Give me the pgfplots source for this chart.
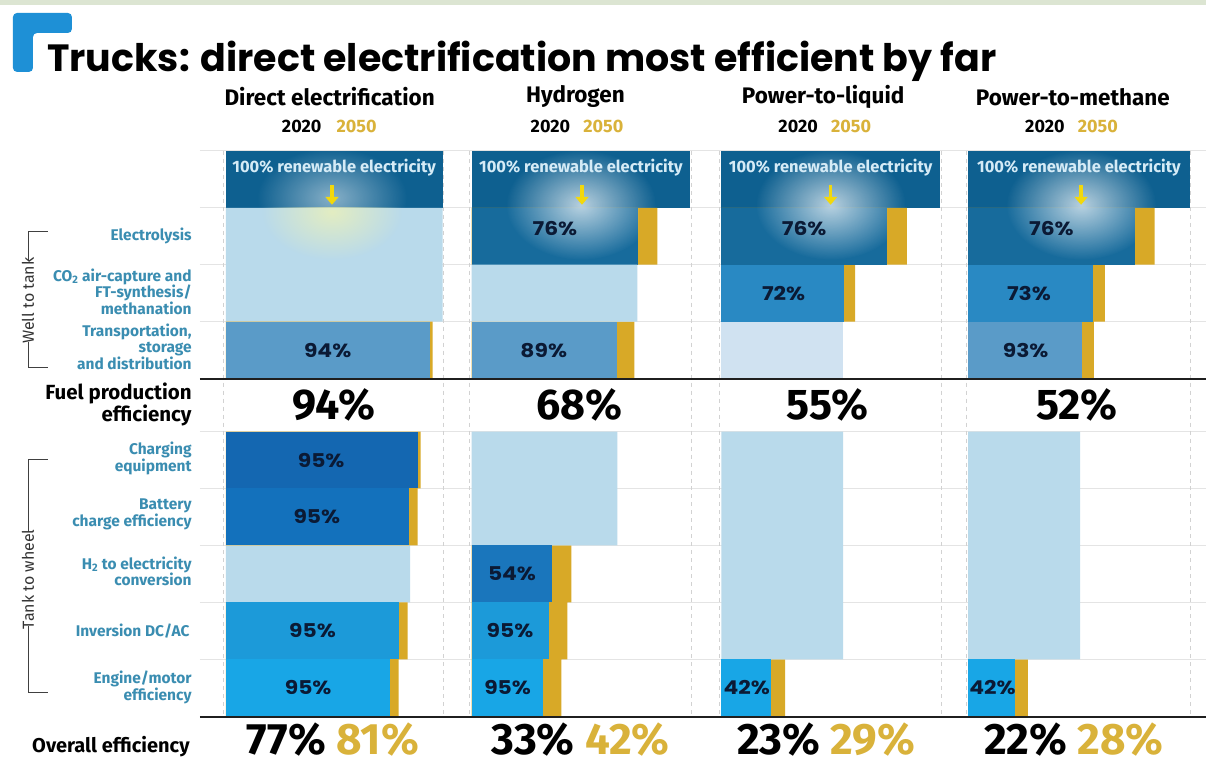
\documentclass[border=0pt]{standalone}
\usepackage{fontspec}
\setmainfont{Fira Sans}
\newfontfamily\titlefont{Poppins}
\newfontfamily\labfont[FakeStretch=1.15]{Poppins}
\usepackage{pgfplots}
\pgfplotsset{compat=1.18}
\usetikzlibrary{fadings,arrows.meta}

\definecolor{topblue}{HTML}{0E6090}
\definecolor{elecblue}{HTML}{176B9C}
\definecolor{lightb}{HTML}{B9DAEB}
\definecolor{vlight}{HTML}{D0E2F1}
\definecolor{transb}{HTML}{5A9BC8}
\definecolor{co2b}{HTML}{2989C3}
\definecolor{chargeb}{HTML}{1467B1}
\definecolor{battb}{HTML}{1371BC}
\definecolor{h2b}{HTML}{1A76BC}
\definecolor{invb}{HTML}{1C9AD9}
\definecolor{engb}{HTML}{18A6E6}
\definecolor{gold}{HTML}{D8A927}
\definecolor{goldtxt}{HTML}{D9B23A}
\definecolor{navy}{HTML}{0B1A35}
\definecolor{tealc}{HTML}{3A8DB1}
\definecolor{logob}{HTML}{1E90D6}
\definecolor{stripc}{HTML}{DCE5D2}
\definecolor{boxtxt}{HTML}{D5EBF6}
\definecolor{arrowy}{HTML}{F2D80C}
\definecolor{gridc}{HTML}{E4E4E4}
\definecolor{dashc}{HTML}{D2D2D2}

\tikzfading[name=glowfade, inner color=transparent!0, outer color=transparent!100]

\pgfplotsset{
  colax/.style={at={(#1pt,0pt)}, anchor=south west, scale only axis, height=765pt,
    ymin=0, ymax=765, y dir=reverse, xmin=0, xmax=100, hide axis, clip=false},
  bx/.style={xbar, bar width=57pt, bar shift=0pt, draw=none, fill=#1},
  pxax/.style={at={(0pt,0pt)}, anchor=south west, scale only axis, width=1207pt, height=765pt,
    xmin=0, xmax=1207, ymin=0, ymax=765, y dir=reverse, hide axis, clip=false},
}
\tikzset{
  lab/.style={font=\labfont\bfseries\fontsize{19}{19}\selectfont, text=navy, inner sep=0pt},
  boxlab/.style={font=\bfseries\fontsize{16.5}{16.5}\selectfont, text=boxtxt, inner sep=0pt},
  rowlab/.style={anchor=east, align=right, font=\bfseries\fontsize{15.5}{16.8}\selectfont, text=tealc, inner sep=0pt},
  arr/.style={arrowy, line width=3.5pt, -{Triangle[length=8pt,width=13pt]}},
  glow/.style={white, opacity=0.7, path fading=glowfade},
  hdr/.style={font=\bfseries\fontsize{22.5}{22.5}\selectfont, inner sep=0pt},
  yr/.style={font=\bfseries\fontsize{18}{18}\selectfont, inner sep=0pt},
  big/.style={anchor=base, font=\bfseries\fontsize{43}{43}\selectfont, inner sep=0pt},
  ovl/.style={anchor=base, font=\bfseries\fontsize{44}{44}\selectfont, inner sep=0pt},
  gl/.style={gridc, line width=1pt},
  dl/.style={dashc, line width=0.8pt, dash pattern=on 4pt off 4pt},
  brk/.style={black!75, line width=0.9pt},
  brt/.style={rotate=90, font=\fontsize{16}{16}\selectfont, text=black!80, inner sep=0pt},
}

\begin{document}
\begin{tikzpicture}
% ---------------- background / text frame ----------------
\begin{axis}[pxax]
\fill[white] (axis cs:0,0) rectangle (axis cs:1207,765);
\fill[stripc] (axis cs:0,0) rectangle (axis cs:1207,5);
\fill[logob, rounded corners=4pt] (axis cs:13,13) -- (axis cs:72,13) -- (axis cs:72,33) -- (axis cs:33,33) -- (axis cs:33,72) -- (axis cs:13,72) -- cycle;
\node[anchor=base west, inner sep=0pt, font=\titlefont\bfseries\fontsize{38}{38}\selectfont] at (axis cs:47,72) {Trucks: direct electrification most efficient by far};
% headers
\node[hdr] at (axis cs:330,97) {Direct electrification};
\node[hdr] at (axis cs:576,97) {Hydrogen};
\node[hdr] at (axis cs:824,97) {Power-to-liquid};
\node[hdr] at (axis cs:1074,97) {Power-to-methane};
\node[yr] at (axis cs:302,127) {2020};
\node[yr] at (axis cs:551,127) {2020};
\node[yr] at (axis cs:799,127) {2020};
\node[yr] at (axis cs:1046,127) {2020};
\node[yr, text=goldtxt] at (axis cs:357,127) {2050};
\node[yr, text=goldtxt] at (axis cs:604,127) {2050};
\node[yr, text=goldtxt] at (axis cs:852,127) {2050};
\node[yr, text=goldtxt] at (axis cs:1099,127) {2050};
% grid lines
\draw[gl] (axis cs:200,151) -- (axis cs:1207,151);
\draw[gl] (axis cs:200,208) -- (axis cs:1207,208);
\draw[gl] (axis cs:200,265) -- (axis cs:1207,265);
\draw[gl] (axis cs:200,322) -- (axis cs:1207,322);
\draw[gl] (axis cs:200,432) -- (axis cs:1207,432);
\draw[gl] (axis cs:200,489) -- (axis cs:1207,489);
\draw[gl] (axis cs:200,546) -- (axis cs:1207,546);
\draw[gl] (axis cs:200,603) -- (axis cs:1207,603);
\draw[gl] (axis cs:200,660) -- (axis cs:1207,660);
\draw[dl] (axis cs:224,151) -- (axis cs:224,717);
\draw[dl] (axis cs:444,151) -- (axis cs:444,717);
\draw[dl] (axis cs:470,151) -- (axis cs:470,717);
\draw[dl] (axis cs:692,151) -- (axis cs:692,717);
\draw[dl] (axis cs:720,151) -- (axis cs:720,717);
\draw[dl] (axis cs:942,151) -- (axis cs:942,717);
\draw[dl] (axis cs:967,151) -- (axis cs:967,717);
\draw[dl] (axis cs:1192,151) -- (axis cs:1192,717);
% row labels
\node[rowlab] at (axis cs:192,236.5) {Electrolysis};
\node[rowlab] at (axis cs:192,292) {CO\textsubscript{2} air-capture and\\FT-synthesis/\\methanation};
\node[rowlab] at (axis cs:192,347) {Transportation,\\storage\\and distribution};
\node[rowlab] at (axis cs:192,459) {Charging\\equipment};
\node[rowlab] at (axis cs:192,515) {Battery\\charge efficiency};
\node[rowlab] at (axis cs:192,572) {H\textsubscript{2} to electricity\\conversion};
\node[rowlab] at (axis cs:190,632) {Inversion DC/AC};
\node[rowlab] at (axis cs:192,688) {Engine/motor\\efficiency};
\node[anchor=east, align=right, inner sep=0pt, font=\bfseries\fontsize{20.5}{19}\selectfont] at (axis cs:192,405) {Fuel production\\efficiency};
\node[anchor=base east, inner sep=0pt, font=\bfseries\fontsize{20}{20}\selectfont] at (axis cs:190,753) {Overall efficiency};
% brackets
\draw[brk] (axis cs:48,232) -- (axis cs:28,232) -- (axis cs:28,261);
\draw[brk] (axis cs:28,342) -- (axis cs:28,368) -- (axis cs:48,368);
\node[brt] at (axis cs:28,301) {Well to tank};
\draw[brk] (axis cs:48,460) -- (axis cs:28,460) -- (axis cs:28,533);
\draw[brk] (axis cs:28,627) -- (axis cs:28,693) -- (axis cs:48,693);
\node[brt] at (axis cs:28,580) {Tank to wheel};
% fuel production efficiency
\node[big] at (axis cs:334,420) {94\%};
\node[big] at (axis cs:580,420) {68\%};
\node[big] at (axis cs:828,420) {55\%};
\node[big] at (axis cs:1078,420) {52\%};
% overall
\node[ovl] at (axis cs:333,755) {77\% \textcolor{goldtxt}{81\%}};
\node[ovl] at (axis cs:581,755) {33\% \textcolor{goldtxt}{42\%}};
\node[ovl] at (axis cs:827,755) {23\% \textcolor{goldtxt}{29\%}};
\node[ovl] at (axis cs:1075,755) {22\% \textcolor{goldtxt}{28\%}};
\end{axis}

% ---------------- Direct electrification ----------------
\begin{axis}[colax=226, width=217pt]
\addplot[bx=topblue] coordinates {(100,179.5)};
\addplot[bx=lightb] coordinates {(100,236.5) (100,293.5) (85,574.5)};
\addplot[bx=gold] coordinates {(95.4,350.5) (89.9,460.5) (88.5,517.5) (83.9,631.5) (79.7,688.5)};
\addplot[bx=transb] coordinates {(94.0,350.5)};
\addplot[bx=chargeb] coordinates {(88.6,460.5)};
\addplot[bx=battb] coordinates {(84.3,517.5)};
\addplot[bx=invb] coordinates {(79.7,631.5)};
\addplot[bx=engb] coordinates {(75.8,688.5)};
\begin{scope}
\clip (axis cs:0,151) rectangle (axis cs:100,208);
\fill[glow, opacity=0.5] (axis cs:49,198) ellipse [x radius=75pt, y radius=50pt];
\end{scope}
\begin{scope}
\clip (axis cs:0,208) rectangle (axis cs:100,265);
\fill[yellow!35!white, opacity=0.6, path fading=glowfade] (axis cs:49,212) ellipse [x radius=70pt, y radius=48pt];
\end{scope}
\node[boxlab] at (axis cs:50,168) {100\% renewable electricity};
\draw[arr] (axis cs:49,185) -- (axis cs:49,205);
\node[lab] at (axis cs:47,350.5) {94\%};
\node[lab] at (axis cs:44,460.5) {95\%};
\node[lab] at (axis cs:42,517.5) {95\%};
\node[lab] at (axis cs:40,631.5) {95\%};
\node[lab] at (axis cs:38,688.5) {95\%};
\end{axis}

% ---------------- Hydrogen ----------------
\begin{axis}[colax=472, width=219pt]
\addplot[bx=topblue] coordinates {(100,179.5)};
\addplot[bx=gold] coordinates {(84.9,236.5) (74.4,350.5) (45.7,574.5) (43.8,631.5) (41.1,688.5)};
\addplot[bx=elecblue] coordinates {(76.3,236.5)};
\addplot[bx=lightb] coordinates {(75.8,293.5) (66.7,460.5) (66.7,517.5)};
\addplot[bx=transb] coordinates {(66.7,350.5)};
\addplot[bx=h2b] coordinates {(37.0,574.5)};
\addplot[bx=invb] coordinates {(35.2,631.5)};
\addplot[bx=engb] coordinates {(32.9,688.5)};
\begin{scope}
\clip (axis cs:0,151) rectangle (axis cs:100,208) (axis cs:0,208) rectangle (axis cs:76.3,265);
\fill[glow] (axis cs:50,205) ellipse [x radius=75pt, y radius=55pt];
\end{scope}
\node[boxlab] at (axis cs:50,168) {100\% renewable electricity};
\draw[arr] (axis cs:50.5,185) -- (axis cs:50.5,205);
\node[lab] at (axis cs:38.1,229) {76\%};
\node[lab] at (axis cs:33,350.5) {89\%};
\node[lab] at (axis cs:18.5,574.5) {54\%};
\node[lab] at (axis cs:17.6,631.5) {95\%};
\node[lab] at (axis cs:16.5,688.5) {95\%};
\end{axis}

% ---------------- Power-to-liquid ----------------
\begin{axis}[colax=722, width=219pt]
\addplot[bx=topblue] coordinates {(100,179.5)};
\addplot[bx=gold] coordinates {(84.9,236.5) (61.2,293.5) (29.2,688.5)};
\addplot[bx=elecblue] coordinates {(75.8,236.5)};
\addplot[bx=co2b] coordinates {(56.2,293.5)};
\addplot[bx=vlight] coordinates {(55.7,350.5)};
\addplot[bx=lightb] coordinates {(55.7,460.5) (55.7,517.5) (55.7,574.5) (55.7,631.5)};
\addplot[bx=engb] coordinates {(22.8,688.5)};
\begin{scope}
\clip (axis cs:0,151) rectangle (axis cs:100,208) (axis cs:0,208) rectangle (axis cs:75.8,265);
\fill[glow] (axis cs:50,205) ellipse [x radius=75pt, y radius=55pt];
\end{scope}
\node[boxlab] at (axis cs:50,168) {100\% renewable electricity};
\draw[arr] (axis cs:50,185) -- (axis cs:50,205);
\node[lab] at (axis cs:37.9,229) {76\%};
\node[lab] at (axis cs:28.5,293.5) {72\%};
\node[lab] at (axis cs:11.6,688.5) {42\%};
\end{axis}

% ---------------- Power-to-methane ----------------
\begin{axis}[colax=969, width=222pt]
\addplot[bx=topblue] coordinates {(100,179.5)};
\addplot[bx=gold] coordinates {(84.2,236.5) (61.7,293.5) (56.8,350.5) (27.0,688.5)};
\addplot[bx=elecblue] coordinates {(75.2,236.5)};
\addplot[bx=co2b] coordinates {(56.3,293.5)};
\addplot[bx=transb] coordinates {(51.4,350.5)};
\addplot[bx=lightb] coordinates {(50.5,460.5) (50.5,517.5) (50.5,574.5) (50.5,631.5)};
\addplot[bx=engb] coordinates {(21.2,688.5)};
\begin{scope}
\clip (axis cs:0,151) rectangle (axis cs:100,208) (axis cs:0,208) rectangle (axis cs:75.2,265);
\fill[glow] (axis cs:51,205) ellipse [x radius=75pt, y radius=55pt];
\end{scope}
\node[boxlab] at (axis cs:50,168) {100\% renewable electricity};
\draw[arr] (axis cs:51,185) -- (axis cs:51,205);
\node[lab] at (axis cs:37.6,229) {76\%};
\node[lab] at (axis cs:27.5,293.5) {73\%};
\node[lab] at (axis cs:26,350.5) {93\%};
\node[lab] at (axis cs:11,688.5) {42\%};
\end{axis}

% ---------------- overlay lines ----------------
\begin{axis}[pxax]
\draw[black!88, line width=2.5pt] (axis cs:200,379.5) -- (axis cs:1207,379.5);
\draw[black!88, line width=2.5pt] (axis cs:200,717.5) -- (axis cs:1207,717.5);
\end{axis}
\end{tikzpicture}
\end{document}
